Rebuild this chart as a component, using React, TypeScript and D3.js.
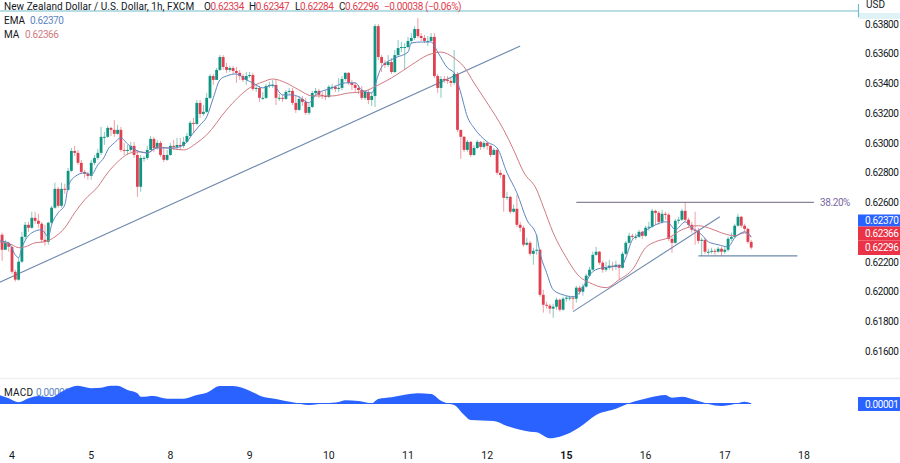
import { useEffect, useRef } from 'react';
import * as d3 from 'd3';

const width = 900;
const height = 463;

// Precos em 1e-5, uma entrada por barra de 1h (a barra 4 e o inicio do dia 4)
const closes = [
    62382, 62281, 62328, 62301, 62133, 62080, 62201, 62368, 62449, 62429,
    62496, 62476, 62456, 62348, 62335, 62463, 62564, 62691, 62577, 62691,
    62684, 62812, 62946, 62933, 62866, 62805, 62792, 62778, 62866, 62899,
    62933, 63041, 63041, 63101, 63088, 63061, 63088, 62953, 62946, 62953,
    62980, 62919, 62705, 62899, 62899, 62953, 63027, 62966, 63000, 62919,
    62886, 62919, 62980, 62973, 62986, 62980, 63007, 63047, 63135, 63128,
    63269, 63195, 63209, 63303, 63450, 63424, 63491, 63578, 63511, 63491,
    63504, 63484, 63471, 63450, 63424, 63450, 63457, 63363, 63370, 63303,
    63303, 63383, 63390, 63390, 63303, 63303, 63296, 63343, 63350, 63269,
    63222, 63296, 63276, 63202, 63242, 63336, 63350, 63323, 63316, 63309,
    63377, 63377, 63363, 63370, 63430, 63471, 63404, 63390, 63370, 63356,
    63303, 63343, 63289, 63316, 63786, 63578, 63538, 63524, 63544, 63477,
    63591, 63638, 63645, 63645, 63686, 63706, 63766, 63719, 63706, 63686,
    63686, 63713, 63450, 63370, 63430, 63424, 63417, 63404, 63464, 63088,
    63041, 62953, 63007, 62919, 62966, 63007, 62973, 63000, 62980, 62919,
    62953, 62799, 62785, 62631, 62637, 62537, 62557, 62449, 62429, 62315,
    62328, 62254, 62274, 62281, 61978, 61911, 61905, 61885, 61898, 61945,
    61878, 61952, 61959, 61959, 61952, 62026, 61999, 62033, 62107, 62147,
    62247, 62268, 62194, 62147, 62160, 62174, 62167, 62180, 62160, 62254,
    62328, 62375, 62368, 62368, 62402, 62375, 62429, 62436, 62543, 62530,
    62469, 62523, 62517, 62355, 62328, 62476, 62483, 62543, 62483, 62449,
    62416, 62409, 62341, 62348, 62268, 62268, 62274, 62268, 62288, 62268,
    62281, 62355, 62368, 62443, 62503, 62443, 62422, 62334, 62296,
];
const highs = [
    62416, 62396, 62348, 62335, 62295, 62147, 62227, 62402, 62469, 62469,
    62537, 62537, 62523, 62469, 62449, 62469, 62577, 62732, 62705, 62732,
    62725, 62832, 62966, 62980, 62953, 62886, 62819, 62805, 62886, 62919,
    62960, 63108, 63074, 63115, 63108, 63155, 63121, 63108, 63000, 62986,
    63007, 63007, 62953, 62919, 62913, 62980, 63047, 63041, 63020, 63013,
    62973, 62953, 63000, 63020, 63034, 63034, 63041, 63068, 63148, 63168,
    63289, 63289, 63255, 63336, 63464, 63464, 63504, 63591, 63591, 63538,
    63518, 63518, 63511, 63491, 63464, 63477, 63477, 63471, 63397, 63383,
    63343, 63397, 63410, 63424, 63424, 63329, 63323, 63356, 63370, 63370,
    63316, 63316, 63316, 63303, 63262, 63350, 63370, 63363, 63343, 63356,
    63390, 63397, 63390, 63437, 63450, 63477, 63477, 63424, 63410, 63390,
    63383, 63356, 63356, 63343, 63800, 63800, 63591, 63558, 63591, 63571,
    63625, 63692, 63679, 63672, 63713, 63739, 63786, 63840, 63739, 63726,
    63719, 63739, 63739, 63464, 63450, 63450, 63450, 63437, 63625, 63477,
    63081, 63047, 63020, 63013, 62986, 63020, 63013, 63013, 63007, 62986,
    62966, 62960, 62819, 62792, 62671, 62644, 62584, 62651, 62469, 62443,
    62362, 62341, 62295, 62382, 62288, 62012, 61932, 61918, 61918, 61959,
    61952, 61965, 61972, 61972, 61972, 62039, 62039, 62053, 62120, 62167,
    62268, 62301, 62274, 62207, 62201, 62214, 62201, 62207, 62187, 62268,
    62341, 62396, 62389, 62389, 62416, 62409, 62443, 62469, 62557, 62550,
    62543, 62550, 62537, 62530, 62375, 62490, 62503, 62557, 62597, 62496,
    62469, 62537, 62429, 62362, 62362, 62288, 62295, 62288, 62301, 62301,
    62301, 62368, 62396, 62456, 62523, 62510, 62456, 62429, 62347,
];
const lows = [
    62348, 62207, 62281, 62268, 62120, 62067, 62073, 62194, 62348, 62402,
    62422, 62456, 62429, 62328, 62308, 62315, 62456, 62557, 62564, 62564,
    62657, 62677, 62805, 62913, 62852, 62792, 62765, 62752, 62752, 62852,
    62886, 62919, 62986, 63034, 63047, 63041, 63054, 62940, 62919, 62919,
    62940, 62899, 62637, 62671, 62872, 62886, 62953, 62940, 62953, 62906,
    62872, 62879, 62913, 62953, 62953, 62953, 62966, 63000, 63041, 63068,
    63121, 63168, 63182, 63202, 63296, 63390, 63424, 63484, 63491, 63471,
    63477, 63464, 63404, 63424, 63410, 63390, 63437, 63350, 63343, 63276,
    63289, 63296, 63370, 63370, 63255, 63282, 63276, 63289, 63329, 63255,
    63202, 63215, 63249, 63188, 63188, 63235, 63316, 63303, 63296, 63289,
    63303, 63356, 63343, 63343, 63356, 63417, 63390, 63356, 63343, 63329,
    63289, 63289, 63262, 63249, 63242, 63558, 63477, 63504, 63511, 63464,
    63471, 63585, 63611, 63491, 63638, 63665, 63692, 63706, 63686, 63672,
    63652, 63686, 63437, 63336, 63303, 63404, 63397, 63377, 63390, 63074,
    62893, 62940, 62940, 62906, 62913, 62960, 62953, 62960, 62953, 62906,
    62919, 62785, 62765, 62537, 62617, 62523, 62530, 62436, 62402, 62301,
    62308, 62241, 62180, 62247, 61965, 61858, 61885, 61851, 61824, 61878,
    61865, 61871, 61932, 61938, 61878, 61925, 61978, 61972, 62026, 62100,
    62140, 62241, 62180, 62127, 62133, 62147, 62140, 62147, 62080, 62154,
    62247, 62322, 62348, 62348, 62362, 62355, 62368, 62409, 62429, 62449,
    62449, 62456, 62483, 62341, 62261, 62322, 62456, 62476, 62469, 62429,
    62396, 62315, 62322, 62241, 62254, 62247, 62254, 62247, 62261, 62241,
    62254, 62268, 62341, 62362, 62436, 62429, 62402, 62322, 62284,
];

const emaBars = [
    0, 3, 5, 6, 7, 10, 13, 15, 16, 18, 20, 21, 23, 26, 28, 30, 32, 33, 35, 37,
    39, 42, 45, 48, 53, 56, 59, 61, 63, 65, 67, 69, 72, 75, 77, 80, 83, 86, 89, 91,
    94, 96, 101, 105, 108, 110, 113, 115, 116, 120, 124, 125, 128, 131, 133, 136, 138, 140, 142, 144,
    148, 151, 154, 157, 160, 163, 164, 166, 168, 171, 174, 176, 178, 180, 183, 186, 189, 190, 192, 195,
    199, 202, 203, 205, 208, 210, 213, 215, 218, 221, 223, 225, 226, 228,
];
const emaValues = [
    62341, 62328, 62247, 62227, 62295, 62395, 62416, 62368, 62449, 62530, 62584, 62705, 62772, 62799, 62785, 62852, 62906, 62953, 63000, 63034,
    62993, 62946, 62933, 62966, 62966, 62986, 63068, 63121, 63175, 63303, 63424, 63450, 63464, 63424, 63404, 63370, 63390, 63323, 63323, 63309,
    63269, 63323, 63370, 63404, 63404, 63356, 63336, 63457, 63511, 63571, 63611, 63672, 63679, 63679, 63611, 63504, 63471, 63336, 63175, 63101,
    63007, 62966, 62799, 62664, 62483, 62375, 62261, 62127, 62012, 61978, 61965, 61992, 62067, 62134, 62160, 62167, 62180, 62227, 62348, 62395,
    62449, 62469, 62463, 62416, 62469, 62429, 62382, 62335, 62315, 62301, 62362, 62395, 62402, 62370,
];
const maBars = [
    0, 2, 4, 6, 8, 11, 14, 17, 20, 23, 26, 30, 33, 36, 40, 43, 45, 48, 56, 60,
    63, 69, 76, 80, 83, 87, 91, 95, 101, 106, 110, 115, 119, 125, 130, 132, 134, 138, 141, 144,
    148, 153, 156, 159, 163, 165, 168, 172, 176, 179, 184, 188, 192, 196, 199, 203, 207, 212, 215, 219,
    223, 226, 228,
];
const maValues = [
    62335, 62328, 62315, 62295, 62301, 62328, 62335, 62368, 62429, 62530, 62617, 62705, 62799, 62872, 62933, 62940, 62933, 62973, 62953, 63000,
    63054, 63222, 63370, 63410, 63430, 63404, 63356, 63316, 63316, 63336, 63343, 63390, 63437, 63524, 63591, 63605, 63611, 63571, 63511, 63404,
    63269, 63088, 62953, 62805, 62684, 62570, 62395, 62227, 62100, 62060, 62026, 62080, 62147, 62295, 62335, 62362, 62416, 62443, 62429, 62395,
    62375, 62395, 62366,
];

const macdBars = [
    0, 3, 6, 9, 12, 16, 19, 24, 28, 31, 34, 36, 39, 42, 43, 47, 51, 56, 60, 63,
    67, 71, 76, 80, 84, 89, 94, 99, 103, 105, 109, 113, 115, 119, 127, 131, 134, 137, 138, 141,
    143, 150, 154, 161, 163, 167, 170, 176, 181, 187, 191, 197, 202, 204, 207, 211, 215, 219, 223, 226,
    228,
];
const macdValues = [
    34, 21, 5, 21, 30, 25, 47, 71, 61, 63, 71, 71, 54, 41, 27, 30, 19, 19, 34, 43,
    70, 70, 51, 27, 18, 5, -6, 1, 6, 13, 10, 1, 18, 25, 41, 38, 11, -3, -6, -46,
    -66, -70, -90, -113, -115, -139, -133, -95, -46, -21, 1, 23, 34, 23, 27, 14, -2, -10, -2, 7,
    1,
];

const priceTicks = [0.638, 0.636, 0.634, 0.632, 0.63, 0.628, 0.626, 0.622, 0.62, 0.618, 0.616];
const dayLabels = ["4", "5", "8", "9", "10", "11", "12", "15", "16", "17", "18"];
const dayBars = [4, 28, 52, 76, 100, 124, 148, 172, 196, 220, 244];

// Linhas desenhadas no grafico: [barra, preco, barra, preco]
const trendLines = [
    [0, 62060, 158, 63652],
    [174, 61865, 218.5, 62503],
    [212, 62240, 242, 62240],
];
const fibLevel = [175, 247, 62600];

const legendKeys = ["O", "H", "L", "C"];
const legendValues = ["0.62334", "0.62347", "0.62284", "0.62296"];
const legendStarts = [204, 249, 295, 339];

const upColor = "#0f9682";
const downColor = "#e0404f";
const emaColor = "#5c86c0";
const maColor = "#d07a82";
const lineColor = "#6d89ad";
const textColor = "#131722";
const fontFamily = "Roboto, sans-serif";
const labelSize = 10;
const labelSpacing = -0.4;

export default function App() {
    const svgRef = useRef<SVGSVGElement>(null);

    useEffect(() => {
        const svg = d3.select(svgRef.current);
        svg.selectAll("*").remove();

        const x = d3.scaleLinear().domain([4, 244]).range([12, 804]);
        const y = d3.scaleLinear().domain([63800, 61600]).range([24, 351]);
        const macdY = d3.scaleLinear().domain([0, -100]).range([403.5, 428.5]);

        svg.append("rect").attr("width", width).attr("height", height).attr("fill", "white");

        // Linhas de tendencia
        svg.selectAll(".trend")
            .data(trendLines)
            .enter().append("line")
            .attr("x1", d => x(d[0]))
            .attr("y1", d => y(d[1]))
            .attr("x2", d => x(d[2]))
            .attr("y2", d => y(d[3]))
            .attr("stroke", lineColor)
            .attr("stroke-width", 1.1);

        svg.append("line")
            .attr("x1", x(fibLevel[0]))
            .attr("x2", x(fibLevel[1]))
            .attr("y1", y(fibLevel[2]))
            .attr("y2", y(fibLevel[2]))
            .attr("stroke", "#8a8399")
            .attr("stroke-width", 1.1);

        svg.append("text")
            .attr("x", 820)
            .attr("y", y(fibLevel[2]) + 3.5)
            .attr("font-family", fontFamily)
            .attr("font-size", labelSize)
            .attr("letter-spacing", labelSpacing)
            .attr("fill", "#7a68a2")
            .text("38.20%");

        // Velas
        const candles = closes.map((close, i) => ({
            i,
            close,
            open: i === 0 ? close : closes[i - 1],
            high: highs[i],
            low: lows[i],
        }));

        svg.selectAll(".wick")
            .data(candles)
            .enter().append("line")
            .attr("x1", d => x(d.i))
            .attr("x2", d => x(d.i))
            .attr("y1", d => y(d.high))
            .attr("y2", d => y(d.low))
            .attr("stroke", d => (d.close >= d.open ? upColor : downColor))
            .attr("stroke-opacity", 0.5)
            .attr("stroke-width", 1);

        svg.selectAll(".body")
            .data(candles)
            .enter().append("rect")
            .attr("x", d => x(d.i) - 1.4)
            .attr("width", 2.8)
            .attr("y", d => y(Math.max(d.open, d.close)))
            .attr("height", d => Math.max(1, Math.abs(y(d.open) - y(d.close))))
            .attr("fill", d => (d.close >= d.open ? upColor : downColor));

        // EMA e MA
        const priceLine = d3.line<number>()
            .x(d => x(d[0]))
            .y(d => y(d[1]))
            .curve(d3.curveMonotoneX);

        svg.append("path")
            .datum(d3.zip(maBars, maValues))
            .attr("fill", "none")
            .attr("stroke", maColor)
            .attr("stroke-width", 1)
            .attr("d", priceLine as any);

        svg.append("path")
            .datum(d3.zip(emaBars, emaValues))
            .attr("fill", "none")
            .attr("stroke", emaColor)
            .attr("stroke-width", 1)
            .attr("d", priceLine as any);

        // Painel do MACD
        svg.append("line")
            .attr("x1", 0)
            .attr("x2", width)
            .attr("y1", 378.5)
            .attr("y2", 378.5)
            .attr("stroke", "#eef0f4")
            .attr("stroke-width", 1.5);

        const macdText = svg.append("text")
            .attr("x", 4)
            .attr("y", 396)
            .attr("font-family", fontFamily)
            .attr("font-size", labelSize)
            .attr("letter-spacing", 0.2)
            .attr("fill", textColor);
        macdText.append("tspan").text("MACD");
        macdText.append("tspan")
            .attr("x", 36)
            .attr("letter-spacing", labelSpacing)
            .attr("fill", emaColor)
            .text("0.00001");

        const macdArea = d3.area<number>()
            .x(d => x(d[0]))
            .y0(macdY(0))
            .y1(d => macdY(d[1]))
            .curve(d3.curveMonotoneX);

        svg.append("path")
            .datum(d3.zip(macdBars, macdValues))
            .attr("fill", "#2962ff")
            .attr("d", macdArea as any);

        svg.append("line")
            .attr("x1", 0)
            .attr("x2", x(228))
            .attr("y1", macdY(0))
            .attr("y2", macdY(0))
            .attr("stroke", "#2962ff")
            .attr("stroke-width", 1);

        // Eixo de precos
        const axisY = d3.axisRight(y)
            .tickValues(priceTicks.map(d => d * 100000))
            .tickSize(0)
            .tickPadding(0)
            .tickFormat(d => (+d / 100000).toFixed(5));

        const yAxis = svg.append("g")
            .attr("transform", "translate(865,0)")
            .call(axisY);
        yAxis.select(".domain").remove();
        yAxis.selectAll("text")
            .attr("font-family", fontFamily)
            .attr("font-size", labelSize)
            .attr("letter-spacing", labelSpacing)
            .attr("fill", textColor);

        svg.append("text")
            .attr("x", 866)
            .attr("y", 8)
            .attr("font-family", fontFamily)
            .attr("font-size", labelSize)
            .attr("fill", textColor)
            .text("USD");

        // Etiquetas do eixo
        const tags = [
            { value: "0.62370", top: 214.5, h: 12, fill: "#2962ff" },
            { value: "0.62366", top: 226.5, h: 14, fill: "#ea3346" },
            { value: "0.62296", top: 240.5, h: 14.5, fill: "#ea3346" },
            { value: "0.00001", top: 397, h: 14, fill: "#2962ff" },
        ];
        svg.selectAll(".tag")
            .data(tags)
            .enter().append("rect")
            .attr("x", 858)
            .attr("y", d => d.top)
            .attr("width", 42)
            .attr("height", d => d.h)
            .attr("fill", d => d.fill);
        svg.selectAll(".tag-label")
            .data(tags)
            .enter().append("text")
            .attr("x", 865)
            .attr("y", d => d.top + d.h / 2 + 3.5)
            .attr("font-family", fontFamily)
            .attr("font-size", labelSize)
            .attr("letter-spacing", labelSpacing)
            .attr("fill", "white")
            .text(d => d.value);

        // Linha superior
        svg.append("rect")
            .attr("x", 858)
            .attr("y", 13)
            .attr("width", 42)
            .attr("height", 6)
            .attr("fill", "#dff2f5");
        svg.append("line")
            .attr("x1", 0)
            .attr("x2", 858.5)
            .attr("y1", 11)
            .attr("y2", 11)
            .attr("stroke", "#72bccb")
            .attr("stroke-width", 1.2);
        svg.append("line")
            .attr("x1", 858.5)
            .attr("x2", 858.5)
            .attr("y1", 4)
            .attr("y2", 17)
            .attr("stroke", "#72bccb")
            .attr("stroke-width", 1.2);

        // Eixo de tempo
        svg.selectAll(".day")
            .data(dayBars)
            .enter().append("text")
            .attr("x", d => x(d))
            .attr("y", 459)
            .attr("text-anchor", "middle")
            .attr("font-family", fontFamily)
            .attr("font-size", 10.5)
            .attr("font-weight", (d, i) => (dayLabels[i] === "15" ? 700 : 400))
            .attr("fill", textColor)
            .text((d, i) => dayLabels[i]);

        // Legenda
        const title = svg.append("text")
            .attr("x", 4)
            .attr("y", 10)
            .attr("font-family", fontFamily)
            .attr("font-size", 10)
            .attr("letter-spacing", 0.05)
            .attr("fill", textColor);
        title.append("tspan").text("New Zealand Dollar / U.S. Dollar, 1h, FXCM");

        legendKeys.forEach((key, i) => {
            const part = svg.append("text")
                .attr("x", legendStarts[i])
                .attr("y", 10)
                .attr("font-family", fontFamily)
                .attr("font-size", labelSize)
                .attr("letter-spacing", labelSpacing)
                .attr("fill", textColor);
            part.append("tspan").text(key);
            part.append("tspan").attr("fill", downColor).text(legendValues[i]);
        });

        svg.append("text")
            .attr("x", 384)
            .attr("y", 10)
            .attr("font-family", fontFamily)
            .attr("font-size", labelSize)
            .attr("letter-spacing", labelSpacing)
            .attr("fill", downColor)
            .text("−0.00038 (−0.06%)");

        const emaLegend = svg.append("text")
            .attr("x", 4)
            .attr("y", 24)
            .attr("font-family", fontFamily)
            .attr("font-size", labelSize)
            .attr("fill", textColor);
        emaLegend.append("tspan").text("EMA");
        emaLegend.append("tspan")
            .attr("x", 30)
            .attr("letter-spacing", labelSpacing)
            .attr("fill", emaColor)
            .text("0.62370");

        const maLegend = svg.append("text")
            .attr("x", 4)
            .attr("y", 38)
            .attr("font-family", fontFamily)
            .attr("font-size", labelSize)
            .attr("fill", textColor);
        maLegend.append("tspan").text("MA");
        maLegend.append("tspan")
            .attr("x", 25)
            .attr("letter-spacing", labelSpacing)
            .attr("fill", maColor)
            .text("0.62366");
    }, []);

    return (
        <svg
            ref={svgRef}
            width={width}
            height={height}
            style={{ position: "absolute", left: 0, top: 0 }}
        ></svg>
    );
}
